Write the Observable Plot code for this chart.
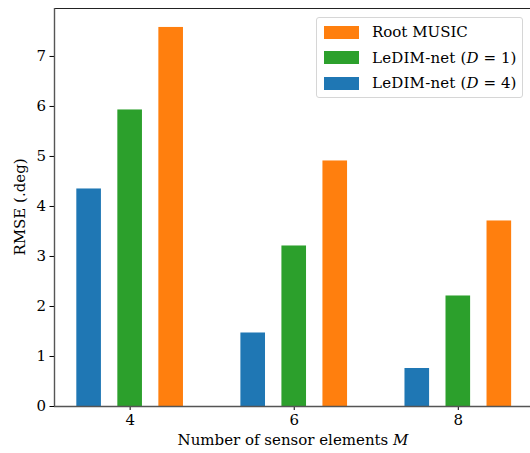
<!DOCTYPE html>
<html>
<head>
<meta charset="utf-8">
<script src="https://cdn.jsdelivr.net/npm/d3@7"></script>
<script src="https://cdn.jsdelivr.net/npm/@observablehq/plot@0.6"></script>
<style>
  html, body { margin: 0; padding: 0; background: #fff; }
  #wrap { position: relative; width: 530px; height: 453px; font-family: "DejaVu Serif", "Liberation Serif", serif; color: #000; }
  #legend { position: absolute; left: 316px; top: 17px; width: 207px; height: 81px; border: 1px solid #d6d6d6; border-radius: 3px; background: rgba(255,255,255,0.85); box-sizing: border-box; }
  .row { position: absolute; left: 7px; height: 14px; display: flex; align-items: center; font-size: 15px; white-space: nowrap; }
  .sw { width: 35px; height: 13px; margin-right: 13px; flex: none; }
  .word { letter-spacing: 0.2px; }
  .math { margin-left: 5px; }
  .eq { margin: 0 5px; }
  .xlabel { position: absolute; left: 0; width: 586px; text-align: center; top: 431px; font-size: 15px; }
  .ylabel { position: absolute; left: 20px; top: 207px; font-size: 15px; transform: translate(-50%, -50%) rotate(-90deg); white-space: nowrap; }
</style>
</head>
<body>
<div id="wrap"></div>
<script>
const categories = [4, 6, 8];
const seriesNames = ["LeDIM-net (D = 4)", "LeDIM-net (D = 1)", "Root MUSIC"];
const ledimD4 = [4.35, 1.47, 0.76];
const ledimD1 = [5.93, 3.21, 2.21];
const rootMusic = [7.58, 4.91, 3.71];
const seriesColors = ["#1f77b4", "#2ca02c", "#ff7f0e"];
const xTicks = [4, 6, 8];
const yTicks = [0, 1, 2, 3, 4, 5, 6, 7];

const seriesValues = [ledimD4, ledimD1, rootMusic];
const offsets = [-0.5, 0, 0.5];
const barW = 0.3;
const data = [];
seriesNames.forEach((s, i) => {
  categories.forEach((m, j) => {
    data.push({series: s, m, value: seriesValues[i][j], x1: m + offsets[i] - barW / 2, x2: m + offsets[i] + barW / 2});
  });
});

const xDomain = [3.078, 8.88];
const yDomain = [0, 7.959];

const chart = Plot.plot({
  width: 530,
  height: 453,
  marginLeft: 54,
  marginRight: 0,
  marginTop: 8,
  marginBottom: 47,
  style: {fontFamily: "DejaVu Serif, Liberation Serif, serif", fontSize: "15px", color: "#000", background: "transparent", overflow: "visible"},
  x: {domain: xDomain, ticks: xTicks, tickFormat: "d", tickSize: 4, tickPadding: 4, label: null},
  y: {domain: yDomain, ticks: yTicks, tickFormat: "d", tickSize: 4.5, tickPadding: 4, label: null},
  color: {domain: seriesNames, range: seriesColors},
  marks: [
    Plot.rect(data, {x1: "x1", x2: "x2", y1: 0, y2: "value", fill: "series"}),
    Plot.ruleY([yDomain[0]], {stroke: "#555", strokeWidth: 1.4}),
    Plot.ruleY([yDomain[1]], {stroke: "#222", strokeWidth: 1.2}),
    Plot.ruleX([xDomain[0]], {stroke: "#555", strokeWidth: 1.4})
  ]
});
const wrap = document.getElementById("wrap");
wrap.appendChild(chart);

// Legend (inside the plot, upper right)
const legend = document.createElement("div");
legend.id = "legend";
const order = [2, 1, 0];
order.forEach((i, k) => {
  const row = document.createElement("div");
  row.className = "row";
  row.style.top = (7 + k * 25.5) + "px";
  const sw = document.createElement("div");
  sw.className = "sw";
  sw.style.background = seriesColors[i];
  const lab = document.createElement("span");
  lab.innerHTML = seriesNames[i].replace(/^(\S+) \(D = (\d)\)$/, '<span class="word">$1</span><span class="math">(<i>D</i><span class="eq">=</span>$2)</span>');
  row.appendChild(sw);
  row.appendChild(lab);
  legend.appendChild(row);
});
wrap.appendChild(legend);

const xl = document.createElement("div");
xl.className = "xlabel";
xl.innerHTML = "Number of sensor elements <i>M</i>";
wrap.appendChild(xl);

const yl = document.createElement("div");
yl.className = "ylabel";
yl.textContent = "RMSE (.deg)";
wrap.appendChild(yl);
</script>
</body>
</html>
